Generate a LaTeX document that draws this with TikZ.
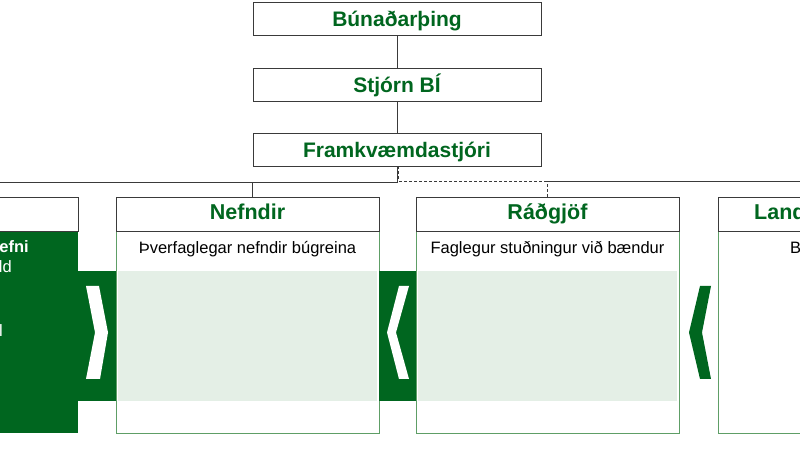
\documentclass[tikz,border=0pt]{standalone}
\usepackage{fontspec}
\setmainfont{Liberation Sans}
\usetikzlibrary{positioning, calc}
\definecolor{bigreen}{HTML}{00661F}
\definecolor{bigline}{HTML}{5E9E66}
\definecolor{bipale}{HTML}{E4EFE6}
\definecolor{bigray}{HTML}{3A3A3A}
\tikzset{%
	unit/.style={draw=bigray, line width=0.9pt, minimum width=288pt, minimum height=33pt,%
		inner sep=0pt, outer sep=0pt, fill=white, text=bigreen,%
		font=\bfseries\fontsize{21}{24}\selectfont, text height=16pt, text depth=1pt},
	head/.style={draw=bigray, line width=0.9pt, minimum width=263pt, minimum height=34pt,%
		inner sep=0pt, outer sep=0pt, fill=white, text=bigreen,%
		font=\bfseries\fontsize{21.5}{24}\selectfont, text height=16pt, text depth=4pt},
	headtext/.style={inner sep=0pt, text=bigreen, font=\bfseries\fontsize{21.5}{24}\selectfont},
	panel/.style={draw=bigline, line width=0.9pt, minimum width=263pt, minimum height=202pt,%
		inner sep=0pt, outer sep=0pt, fill=white},
	sub/.style={inner sep=0pt, font=\fontsize{16.5}{19}\selectfont, text height=12pt, text depth=3.5pt},
	whitetext/.style={inner sep=0pt, text=white, font=\fontsize{16.5}{19}\selectfont},
	connector/.style={draw=bigray, line width=0.8pt},
	dlink/.style={connector, dash pattern=on 3pt off 2pt},
	band/.style={fill=bigreen},
	pale/.style={fill=bipale}
}

\begin{document}
\begin{tikzpicture}[x=1pt, y=1pt, node distance=33pt and 37pt]
	\useasboundingbox (0,0) rectangle (800,460);
	\clip (0,0) rectangle (800,460);
	% top of the chart
	\node[unit] (bun) at (397,441) {Búnaðarþing};
	\node[unit] (stj) [below=of bun] {Stjórn BÍ};
	\node[unit] (fram) [below=32pt of stj] {Framkvæmdastjóri};
	\draw [connector] (bun) -- (stj);
	\draw [connector] (stj) -- (fram);

	% bodies of the lower row
	\node[panel] (nefb) at (247.5,128) {};
	\node[panel] (radb) [right=of nefb] {};
	\node[panel, fill=bigreen, draw=none] (lefb) [left=38pt of nefb] {};
	\node[panel] (landb) [right=39pt of radb] {};
	\fill[band] ($(lefb.south east)+(0,32)$) rectangle ($(nefb.south west)+(0,162)$);
	\fill[band] ($(nefb.south east)+(0,32)$) rectangle ($(radb.south west)+(0,162)$);
	\fill[pale] ($(nefb.south west)+(2,32)$) rectangle ($(nefb.south east)+(-2,162)$);
	\fill[pale] ($(radb.south west)+(2,32)$) rectangle ($(radb.south east)+(-2,162)$);

	% chevrons
	\fill[white] (86,174) -- (99,174) -- (108,127.5) -- (100,81) -- (86,81) -- (95,127.5) -- cycle;
	\fill[white] (409,174) -- (399,174) -- (387,127.5) -- (399,81) -- (409,81) -- (396,127.5) -- cycle;
	\fill[bigreen] (711,174) -- (700,174) -- (689,127.5) -- (700,81) -- (711,81) -- (702,127.5) -- cycle;

	% headers
	\node[head] (nefh) [above=0pt of nefb] {Nefndir};
	\node[head] (radh) [above=0pt of radb] {Ráðgjöf};
	\node[head] (lefh) [above=0pt of lefb] {};
	\node[head] (landh) [above=0pt of landb] {};
	\node[headtext, anchor=base west] (landt) at (754,240) {Land};

	% texts in the bodies
	\node[sub] (nefs) [below=10pt of nefh] {Þverfaglegar nefndir búgreina};
	\node[sub] (rads) [below=10pt of radh] {Faglegur stuðningur við bændur};
	\node[sub, anchor=north west] (lands) at ($(landh.south west)+(72,-10)$) {Bú};
	\node[whitetext, font=\bfseries\fontsize{16.5}{19}\selectfont, anchor=base east] (left1) at (29,207) {efni};
	\node[whitetext, anchor=base east] (left2) at (12,187) {ld};
	\node[whitetext, anchor=base east] (left3) at (3,123) {l};

	% lines to the lower row
	\coordinate (busl) at (-5,278);
	\coordinate (busr) at (805,279);
	\draw [connector] (fram.south) |- (busl);
	\draw [connector] ([xshift=4.5pt]nefh.north) |- (busl);
	\draw [dlink] ([xshift=1.5pt]fram.south) |- (busr);
	\draw [dlink] (radh.north) |- (busr);

\end{tikzpicture}
\end{document}
